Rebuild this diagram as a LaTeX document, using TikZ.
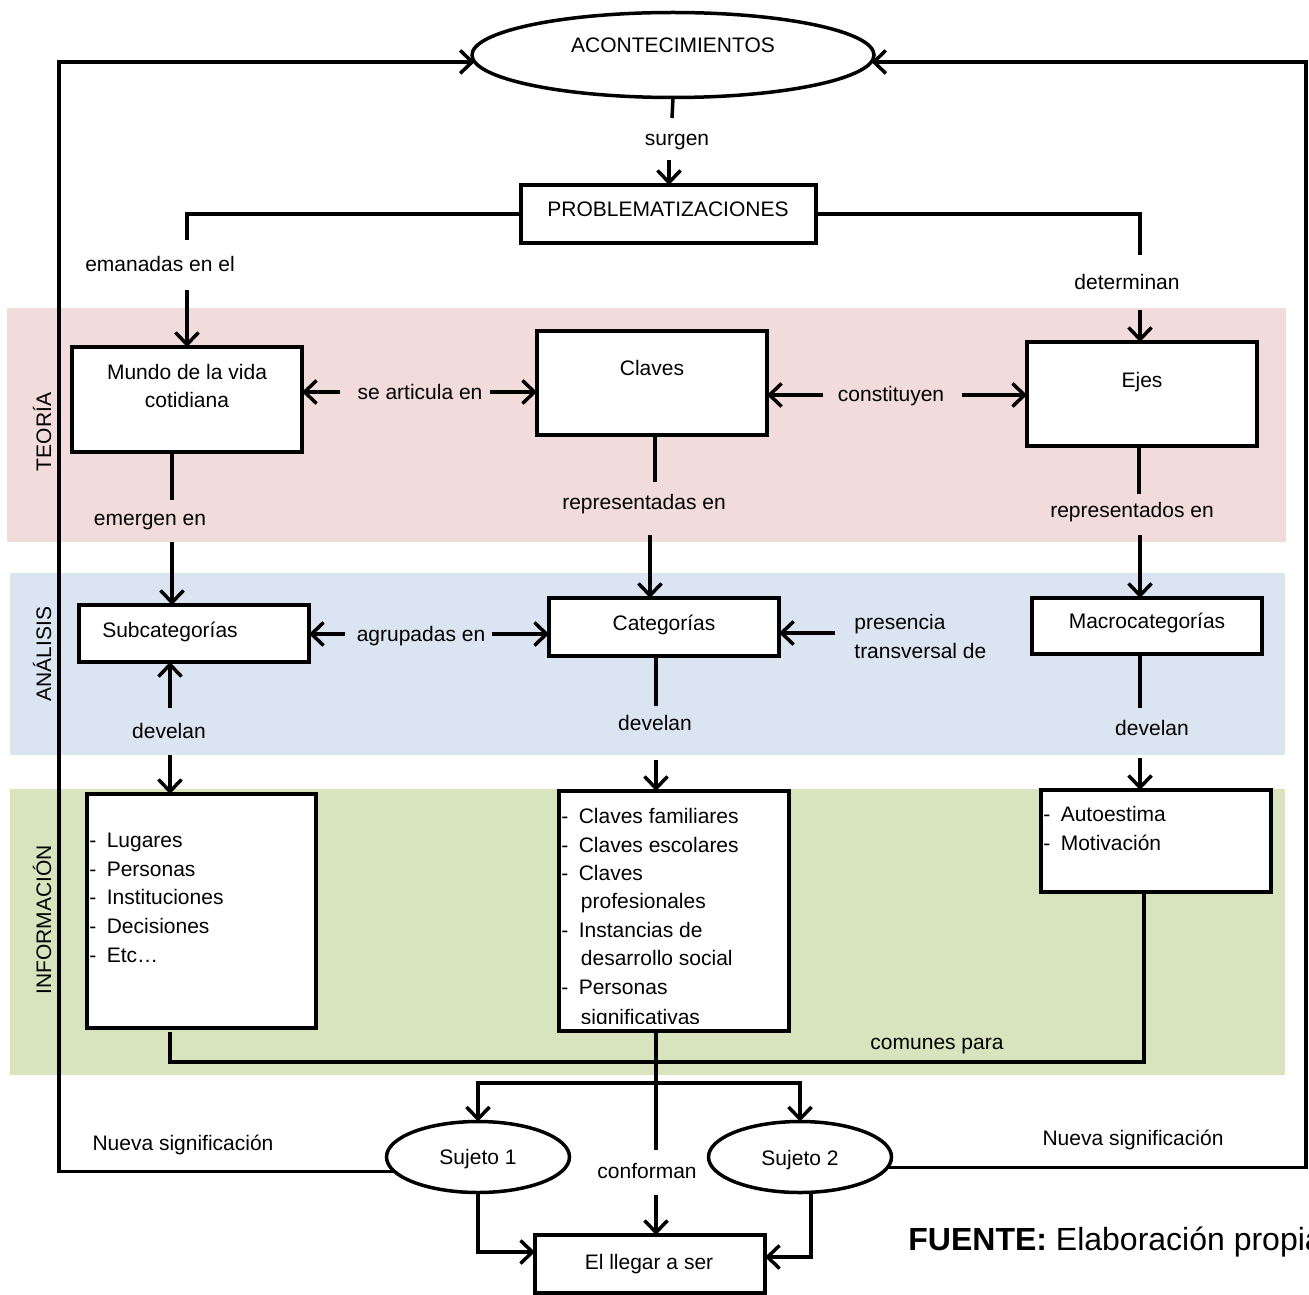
\documentclass[tikz,border=0pt]{standalone}
\usepackage{fontspec}
\setmainfont{Liberation Sans}
\usetikzlibrary{arrows.meta,shapes.geometric,calc}
\definecolor{bandpink}{RGB}{242,220,219}
\definecolor{bandblue}{RGB}{219,229,241}
\definecolor{bandgreen}{RGB}{215,228,189}
\begin{document}
\begin{tikzpicture}[x=0.5pt,y=-0.5pt,
  lw/.style={line width=1.75pt},
  box/.style={draw,lw,fill=white,rectangle,inner sep=0pt,outer sep=0pt},
  oval/.style={draw,lw,fill=white,ellipse,inner sep=0pt,outer sep=0pt},
  txt/.style={font=\fontsize{10.5}{14}\selectfont,inner sep=0pt,anchor=base},
  ltxt/.style={txt,anchor=base west},
  vtxt/.style={font=\fontsize{10.5}{14}\selectfont,inner sep=0pt,anchor=center,rotate=90},
  conn/.style={lw},
  arr/.style={lw,-{Straight Barb[length=6pt,width=11.5pt]}},
]
\useasboundingbox (0,0) rectangle (1309,1294);
% bands
\fill[bandpink] (7,308) rectangle (1286,542);
\fill[bandblue] (10,573) rectangle (1285,755);
\fill[bandgreen] (10,789) rectangle (1285,1075);
\node[vtxt] (tTeoria) at (42,432) {TEORÍA};
\node[vtxt] (tAnalisis) at (42,654) {ANÁLISIS};
\node[vtxt] (tInfo) at (42,920) {INFORMACIÓN};

% shapes
\node[oval,minimum width=201pt,minimum height=42.5pt] (acont) at (673,55) {};
\node[box,minimum width=147.5pt,minimum height=29pt] (prob) at (668.5,214) {};
\node[box,minimum width=115pt,minimum height=52.5pt] (mundo) at (187,399.5) {};
\node[box,minimum width=115pt,minimum height=52pt] (claves) at (652,383) {};
\node[box,minimum width=115pt,minimum height=52pt] (ejes) at (1142,394) {};
\node[box,minimum width=115pt,minimum height=28.5pt] (subcat) at (194,633.5) {};
\node[box,minimum width=115pt,minimum height=29pt] (cat) at (664,627) {};
\node[box,minimum width=115pt,minimum height=28pt] (macro) at (1147,626) {};
\node[box,minimum width=114.5pt,minimum height=117pt] (info1) at (201.5,911) {};
\node[box,minimum width=115pt,minimum height=120pt] (info2) at (674,911) {};
\node[box,minimum width=115pt,minimum height=51pt] (info3) at (1156,841) {};
\node[box,minimum width=115pt,minimum height=29pt] (llegar) at (650,1264) {};
\node[oval,minimum width=91.5pt,minimum height=35.5pt] (s1) at (478,1157) {};
\node[oval,minimum width=91.5pt,minimum height=35.5pt] (s2) at (800,1157) {};

% connectors
\draw[conn] (acont.south) -- (672,118);
\draw[arr] (669,160) -- (prob.north -| 669,0);
\draw[conn] (prob.west) -| (187,240);
\draw[arr] (187,290) -- (mundo.north);
\draw[conn] (prob.east) -| (1140,255);
\draw[arr] (1140,310) -- (ejes.north -| 1140,0);
\draw[arr] (340,392) -- (mundo.east |- 0,392);
\draw[arr] (490,392) -- (claves.west |- 0,392);
\draw[arr] (823,395) -- (claves.east |- 0,395);
\draw[arr] (962,395) -- (ejes.west |- 0,395);
\draw[conn] (mundo.south -| 172,0) -- (172,500);
\draw[arr] (172,542) -- (subcat.north -| 172,0);
\draw[conn] (claves.south -| 655,0) -- (655,482);
\draw[arr] (650,535) -- (cat.north -| 650,0);
\draw[conn] (ejes.south -| 1139,0) -- (1139,494);
\draw[arr] (1140,535) -- (macro.north -| 1140,0);
\draw[arr] (345,634) -- (subcat.east |- 0,634);
\draw[arr] (492,634) -- (cat.west |- 0,634);
\draw[arr] (835,633) -- (cat.east |- 0,633);
\draw[arr] (170,708) -- (subcat.south -| 170,0);
\draw[arr] (170,755) -- (info1.north -| 170,0);
\draw[conn] (cat.south -| 656,0) -- (656,706);
\draw[arr] (656,760) -- (info2.north -| 656,0);
\draw[conn] (macro.south -| 1140,0) -- (1140,708);
\draw[arr] (1140,758) -- (info3.north -| 1140,0);
\draw[conn] ([yshift=-2pt]info1.south -| 170,0) -- (170,1062) -- (1144,1062) -- (info3.south -| 1144,0);
\draw[conn] (info2.south -| 656,0) -- (656,1150);
\draw[arr] (656,1195) -- (llegar.north -| 656,0);
\draw[arr] (656,1083) -| (s1.north);
\draw[arr] (656,1083) -| (s2.north);
\draw[arr] (s1.190) -- (s1.190 -| 59,0) |- (acont.182);
\draw[arr] (s2.353) -- (s2.353 -| 1306,0) |- (acont.358);
\draw[arr] (s1.south) |- ([yshift=6pt]llegar.west);
\draw[arr] (s2.south -| 811,0) |- ([yshift=3.5pt]llegar.east);

% texts
\node[txt] (tAcont) at (673,53) {ACONTECIMIENTOS};
\node[txt] (tSurgen) at (677,146) {surgen};
\node[txt] (tProb) at (668,217) {PROBLEMATIZACIONES};
\node[txt] (tEman) at (160,271) {emanadas en el};
\node[txt] (tDet) at (1127,290) {determinan};
\node[txt] (tMundoA) at (187,379) {Mundo de la vida};
\node[txt] (tMundoB) at (187,407) {cotidiana};
\node[txt] (tClaves) at (652,375) {Claves};
\node[txt] (tEjes) at (1142,387) {Ejes};
\node[txt] (tArt) at (420,399) {se articula en};
\node[txt] (tConst) at (891,401) {constituyen};
\node[txt] (tEmerg) at (150,525) {emergen en};
\node[txt] (tRepA) at (644,509) {representadas en};
\node[txt] (tRepB) at (1132,517) {representados en};
\node[txt] (tSubcat) at (170,637) {Subcategorías};
\node[txt] (tCat) at (664,630) {Categorías};
\node[txt] (tMacro) at (1147,628) {Macrocategorías};
\node[txt] (tAgr) at (421,641) {agrupadas en};
\node[ltxt] (tPresA) at (854,629) {presencia};
\node[ltxt] (tPresB) at (854,658) {transversal de};
\node[txt] (tDevA) at (169,738) {develan};
\node[txt] (tDevB) at (655,730) {develan};
\node[txt] (tDevC) at (1152,735) {develan};
\node[txt] (tCom) at (937,1049) {comunes para};
\node[txt] (tS1) at (478,1164) {Sujeto 1};
\node[txt] (tS2) at (800,1165) {Sujeto 2};
\node[txt] (tConf) at (647,1178) {conforman};
\node[txt] (tNuevaA) at (183,1150) {Nueva significación};
\node[txt] (tNuevaB) at (1133,1145) {Nueva significación};
\node[txt] (tLlegar) at (649,1269) {El llegar a ser};
\node[inner sep=0pt,anchor=base west,font=\fontsize{16}{19}\selectfont] (tFuente) at (908,1250) {\textbf{FUENTE:} Elaboración propia};

% lists
\newcommand{\dashitem}[1]{\makebox[8.7pt][l]{-}#1}
\node[ltxt] (a1) at (89,847) {\dashitem{Lugares}};
\node[ltxt] (a2) at (89,876) {\dashitem{Personas}};
\node[ltxt] (a3) at (89,904) {\dashitem{Instituciones}};
\node[ltxt] (a4) at (89,933) {\dashitem{Decisiones}};
\node[ltxt] (a5) at (89,962) {\dashitem{Etc…}};
\begin{scope}
\clip (info2.north west) rectangle ([yshift=4pt]info2.south east);
\node[ltxt] (b1) at (561,823) {\dashitem{Claves familiares}};
\node[ltxt] (b2) at (561,852) {\dashitem{Claves escolares}};
\node[ltxt] (b3) at (561,880) {\dashitem{Claves}};
\node[ltxt] (b4) at (580.5,908) {profesionales};
\node[ltxt] (b5) at (561,937) {\dashitem{Instancias de}};
\node[ltxt] (b6) at (580.5,965) {desarrollo social};
\node[ltxt] (b7) at (561,994) {\dashitem{Personas}};
\node[ltxt] (b8) at (580.5,1024) {significativas};
\end{scope}
\node[ltxt] (c1) at (1043,821) {\dashitem{Autoestima}};
\node[ltxt] (c2) at (1043,850) {\dashitem{Motivación}};
\end{tikzpicture}
\end{document}
